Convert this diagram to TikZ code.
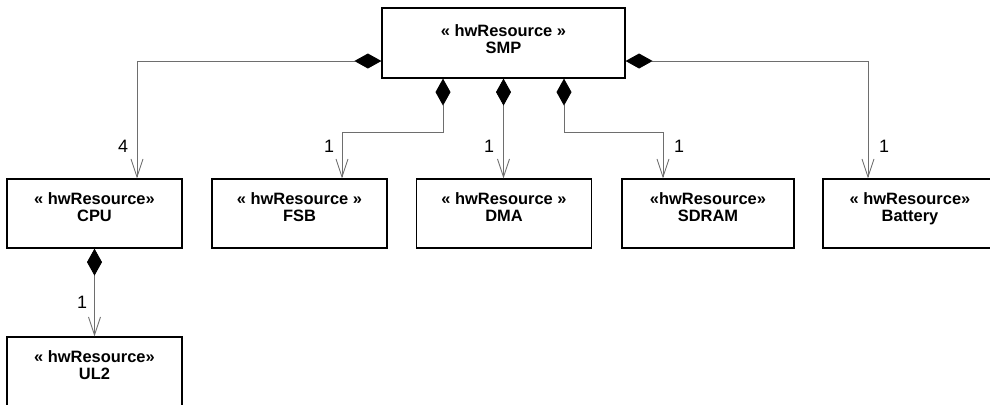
\documentclass[tikz,border=0pt]{standalone}
\usepackage{fontspec}
\setmainfont{Liberation Sans}
\usetikzlibrary{arrows.meta, positioning}
\definecolor{lgray}{RGB}{110,110,110}

\begin{document}
\begin{tikzpicture}[x=1bp, y=-1bp,
  res/.style={draw=black, line width=1.2bp, fill=white, minimum width=175bp, minimum height=69bp, inner sep=0pt},
  stereo/.style={anchor=north, inner sep=0pt, align=center, font=\fontsize{16.5}{17.5}\selectfont\bfseries},
  comp/.style={{Diamond[length=27bp,width=15bp,black]}-{Straight Barb[length=18bp,width=12bp]}, lgray, line width=0.9bp},
  mult/.style={font=\fontsize{18}{18}\selectfont}
]
  \path[use as bounding box, clip] (0,0) rectangle (990,404);

  % resource boxes
  \node[res, minimum width=243bp, minimum height=70bp] (smp) at (503.5,43) {};
  \node[res] (cpu) at (94.5,213.5) {};
  \node[res] (fsb) at (299.5,213.5) {};
  \node[res] (dma) at (504,213.5) {};
  \node[res, minimum width=172bp] (sdram) at (708,213.5) {};
  \node[res, minimum width=174bp] (battery) at (910,213.5) {};
  \node[res] (ul2) at (94.5,371.5) {};

  % stereotypes and names
  \node[stereo] (smptxt) at ([yshift=-17bp]smp.north) {« hwResource »\\SMP};
  \node[stereo] (cputxt) at ([yshift=-14bp]cpu.north) {« hwResource»\\CPU};
  \node[stereo] (fsbtxt) at ([yshift=-14bp]fsb.north) {« hwResource »\\FSB};
  \node[stereo] (dmatxt) at ([yshift=-14bp]dma.north) {« hwResource »\\DMA};
  \node[stereo] (sdramtxt) at ([yshift=-14bp]sdram.north) {«hwResource»\\SDRAM};
  \node[stereo] (batterytxt) at ([yshift=-14bp]battery.north) {« hwResource»\\Battery};
  \node[stereo] (ul2txt) at ([yshift=-14bp]ul2.north) {« hwResource»\\UL2};

  % compositions
  \draw[comp] ([yshift=-18bp]smp.west) -| ([xshift=42.5bp]cpu.north);
  \draw[comp] ([xshift=-60.5bp]smp.south) -- ++(0,54) -| ([xshift=42.5bp]fsb.north);
  \draw[comp] (smp.south) -- (smp.south |- dma.north);
  \draw[comp] ([xshift=60.5bp]smp.south) -- ++(0,54) -| ([xshift=-45bp]sdram.north);
  \draw[comp] ([yshift=-18bp]smp.east) -| ([xshift=-42bp]battery.north);
  \draw[comp] (cpu.south) -- (ul2.north);

  % multiplicities
  \node[mult] (mcpu) at (123,146) {4};
  \node[mult] (mfsb) at (329,146) {1};
  \node[mult] (mdma) at (489,146) {1};
  \node[mult] (msdram) at (679,146) {1};
  \node[mult] (mbattery) at (884,146) {1};
  \node[mult] (mul2) at (82,302) {1};
\end{tikzpicture}
\end{document}
